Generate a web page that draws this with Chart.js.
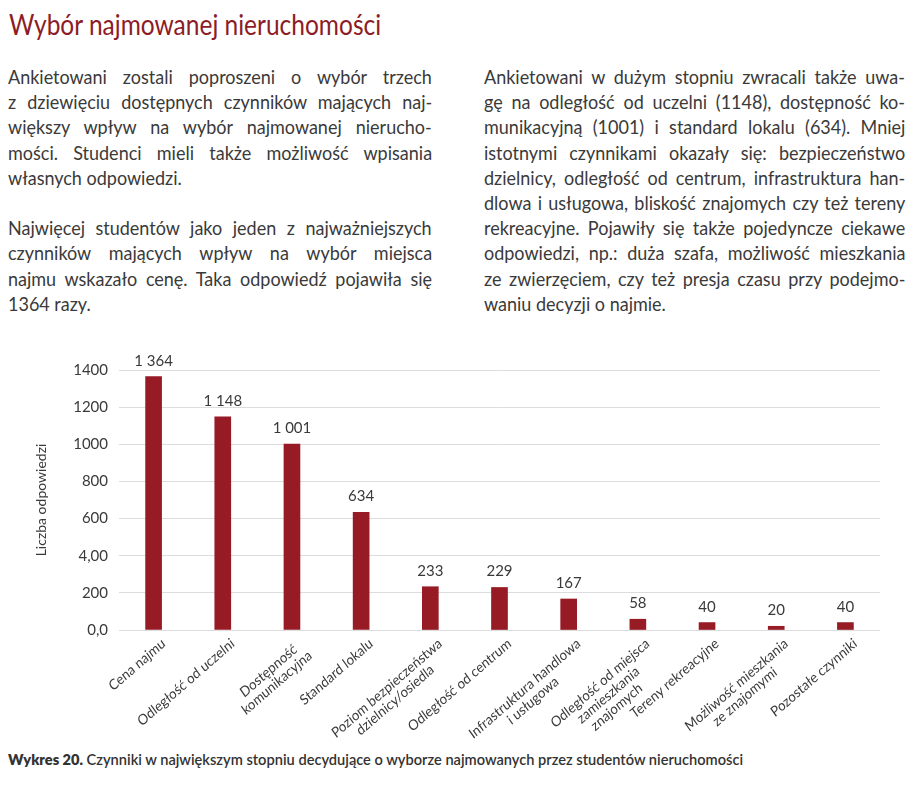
<!DOCTYPE html>
<html lang="pl">
<head>
<meta charset="utf-8">
<title>Wybór najmowanej nieruchomości</title>
<script src="https://cdn.jsdelivr.net/npm/chart.js@4.4.1/dist/chart.umd.min.js"></script>
<style>
  html, body { margin: 0; padding: 0; background: #fff; }
  body { width: 918px; height: 800px; position: relative; overflow: hidden; font-family: Lato, "Open Sans", sans-serif; color: #3a3a3a; }
  #tytul { position: absolute; left: 9px; top: 7px; font-size: 28px; line-height: 34px; color: #8c1c26; white-space: nowrap; transform: scaleX(0.875); transform-origin: left top; }
  .kolumna { position: absolute; top: 64px; font-size: 20px; line-height: 25.2px; transform: scaleX(0.9); transform-origin: left top; }
  #lewa { left: 8px; width: 471px; }
  #prawa { left: 484px; width: 468px; }
  .linia { white-space: nowrap; height: 25.2px; }
  #wykres-box { position: absolute; left: 0; top: 340px; width: 918px; height: 400px; }
  #podpis { position: absolute; left: 8px; top: 751px; font-size: 14.5px; line-height: 18px; font-weight: 600; color: #333; white-space: nowrap; transform-origin: left top; }
  #podpis b { font-weight: 800; }
</style>
</head>
<body>
<div id="tytul">Wybór najmowanej nieruchomości</div>
<div class="kolumna" id="lewa"></div>
<div class="kolumna" id="prawa"></div>
<div id="wykres-box"><canvas id="wykres"></canvas></div>
<div id="podpis"><b>Wykres 20.</b> Czynniki w największym stopniu decydujące o wyborze najmowanych przez studentów nieruchomości</div>

<script>
// DANE WYKRESU
const kategorie = [
  'Cena najmu',
  'Odległość od uczelni',
  ['Dostępność', 'komunikacyjna'],
  'Standard lokalu',
  ['Poziom bezpieczeństwa', 'dzielnicy/osiedla'],
  'Odległość od centrum',
  ['Infrastruktura handlowa', 'i usługowa'],
  ['Odległość od miejsca', 'zamieszkania', 'znajomych'],
  'Tereny rekreacyjne',
  ['Możliwość mieszkania', 'ze znajomymi'],
  'Pozostałe czynniki'
];
const liczbaOdpowiedzi = [1364, 1148, 1001, 634, 233, 229, 167, 58, 40, 20, 40];
const etykietyWartosci = ['1 364', '1 148', '1 001', '634', '233', '229', '167', '58', '40', '20', '40'];
const etykietyOsiY = ['0,0', '200', '4,00', '600', '800', '1000', '1200', '1400'];

// TEKST KOLUMN (null = pusta linia, '|' na końcu = ostatnia linia akapitu)
const linieLewe = [
  'Ankietowani zostali poproszeni o wybór trzech',
  'z dziewięciu dostępnych czynników mających naj-',
  'większy wpływ na wybór najmowanej nierucho-',
  'mości. Studenci mieli także możliwość wpisania',
  'własnych odpowiedzi.|',
  null,
  'Najwięcej studentów jako jeden z najważniejszych',
  'czynników mających wpływ na wybór miejsca',
  'najmu wskazało cenę. Taka odpowiedź pojawiła się',
  '1364 razy.|'
];
const liniePrawe = [
  'Ankietowani w dużym stopniu zwracali także uwa-',
  'gę na odległość od uczelni (1148), dostępność ko-',
  'munikacyjną (1001) i standard lokalu (634). Mniej',
  'istotnymi czynnikami okazały się: bezpieczeństwo',
  'dzielnicy, odległość od centrum, infrastruktura han-',
  'dlowa i usługowa, bliskość znajomych czy też tereny',
  'rekreacyjne. Pojawiły się także pojedyncze ciekawe',
  'odpowiedzi, np.: duża szafa, możliwość mieszkania',
  'ze zwierzęciem, czy też presja czasu przy podejmo-',
  'waniu decyzji o najmie.|'
];

const kolorSlupka = '#961b25';
const kolorTekstu = '#3a3a3a';

// FUNKCJA WYPELNIAJACA KOLUMNE I WYRÓWNUJĄCA LINIE DO SZEROKOŚCI
const wypelnijKolumne = (kolumna, linie) => {
  const szerokosc = kolumna.offsetWidth;
  linie.forEach((tekst) => {
    const div = document.createElement('div');
    div.className = 'linia';
    if (tekst === null) {
      kolumna.appendChild(div);
      return;
    }
    const ostatnia = tekst.endsWith('|');
    const span = document.createElement('span');
    span.textContent = ostatnia ? tekst.slice(0, -1) : tekst;
    div.appendChild(span);
    kolumna.appendChild(div);
    if (!ostatnia) {
      const spacje = (span.textContent.match(/ /g) || []).length;
      const brak = szerokosc - span.offsetWidth;
      if (spacje > 0) span.style.wordSpacing = (brak / spacje) + 'px';
    }
  });
};

wypelnijKolumne(document.getElementById('lewa'), linieLewe);
wypelnijKolumne(document.getElementById('prawa'), liniePrawe);

// PODPIS DOPASOWANY DO SZEROKOSCI
const podpis = document.getElementById('podpis');
podpis.style.transform = `scaleX(${735 / podpis.offsetWidth})`;

// PLUGIN: WARTOSCI NAD SLUPKAMI
const wartosciNadSlupkami = {
  id: 'wartosciNadSlupkami',
  afterDatasetsDraw(chart) {
    const { ctx } = chart;
    const meta = chart.getDatasetMeta(0);
    ctx.save();
    ctx.font = '15px Lato';
    ctx.fillStyle = kolorTekstu;
    ctx.textAlign = 'center';
    ctx.textBaseline = 'alphabetic';
    meta.data.forEach((slupek, i) => {
      ctx.fillText(etykietyWartosci[i], slupek.x, slupek.y - 11);
    });
    ctx.restore();
  }
};

// PLUGIN: OBROCONE, WYSRODKOWANE ETYKIETY KATEGORII
// (lekko zwezone w poziomie, tak jak w oryginale; kat widoczny ok. 40 stopni)
const etykietyKategorii = {
  id: 'etykietyKategorii',
  afterDraw(chart) {
    const { ctx, chartArea } = chart;
    const skalaX = chart.scales.x;
    const zwezenie = 0.9;
    const kat = Math.atan(zwezenie * Math.tan(41 * Math.PI / 180));
    ctx.save();
    ctx.font = '14.5px Lato';
    ctx.fillStyle = kolorTekstu;
    ctx.textAlign = 'right';
    ctx.textBaseline = 'top';
    kategorie.forEach((etykieta, i) => {
      const linie = Array.isArray(etykieta) ? etykieta : [etykieta];
      const szer = Math.max(...linie.map((l) => ctx.measureText(l).width));
      ctx.save();
      ctx.translate(skalaX.getPixelForTick(i) + 6, chartArea.bottom + 6);
      ctx.scale(zwezenie, 1);
      ctx.rotate(-kat);
      linie.forEach((l, j) => {
        const w = ctx.measureText(l).width;
        ctx.fillText(l, -(szer - w) / 2, j * 15);
      });
      ctx.restore();
    });
    ctx.restore();
  }
};

const config = {
  type: 'bar',
  data: {
    labels: kategorie,
    datasets: [{
      data: liczbaOdpowiedzi,
      backgroundColor: kolorSlupka,
      borderWidth: 0,
      barThickness: 16
    }]
  },
  options: {
    responsive: true,
    maintainAspectRatio: false,
    animation: false,
    layout: { padding: { top: 30, right: 38, left: 0, bottom: 0 } },
    plugins: {
      legend: { display: false },
      tooltip: { enabled: false }
    },
    scales: {
      x: {
        grid: { display: false },
        border: { display: false },
        ticks: { display: false },
        afterFit: (scale) => { scale.height = 110; }
      },
      y: {
        min: 0,
        max: 1400,
        ticks: {
          stepSize: 200,
          padding: 11,
          color: kolorTekstu,
          font: { family: 'Lato', size: 15 },
          callback: (value, index) => etykietyOsiY[index]
        },
        grid: { color: '#dcdcdc', lineWidth: 1, drawTicks: false },
        border: { display: false },
        title: {
          display: true,
          text: 'Liczba odpowiedzi',
          color: kolorTekstu,
          font: { family: 'Lato', size: 14 },
          padding: { top: 33, bottom: 0 }
        },
        afterFit: (scale) => { scale.width = 119; }
      }
    }
  },
  plugins: [wartosciNadSlupkami, etykietyKategorii]
};

new Chart(document.getElementById('wykres'), config);
</script>
</body>
</html>
